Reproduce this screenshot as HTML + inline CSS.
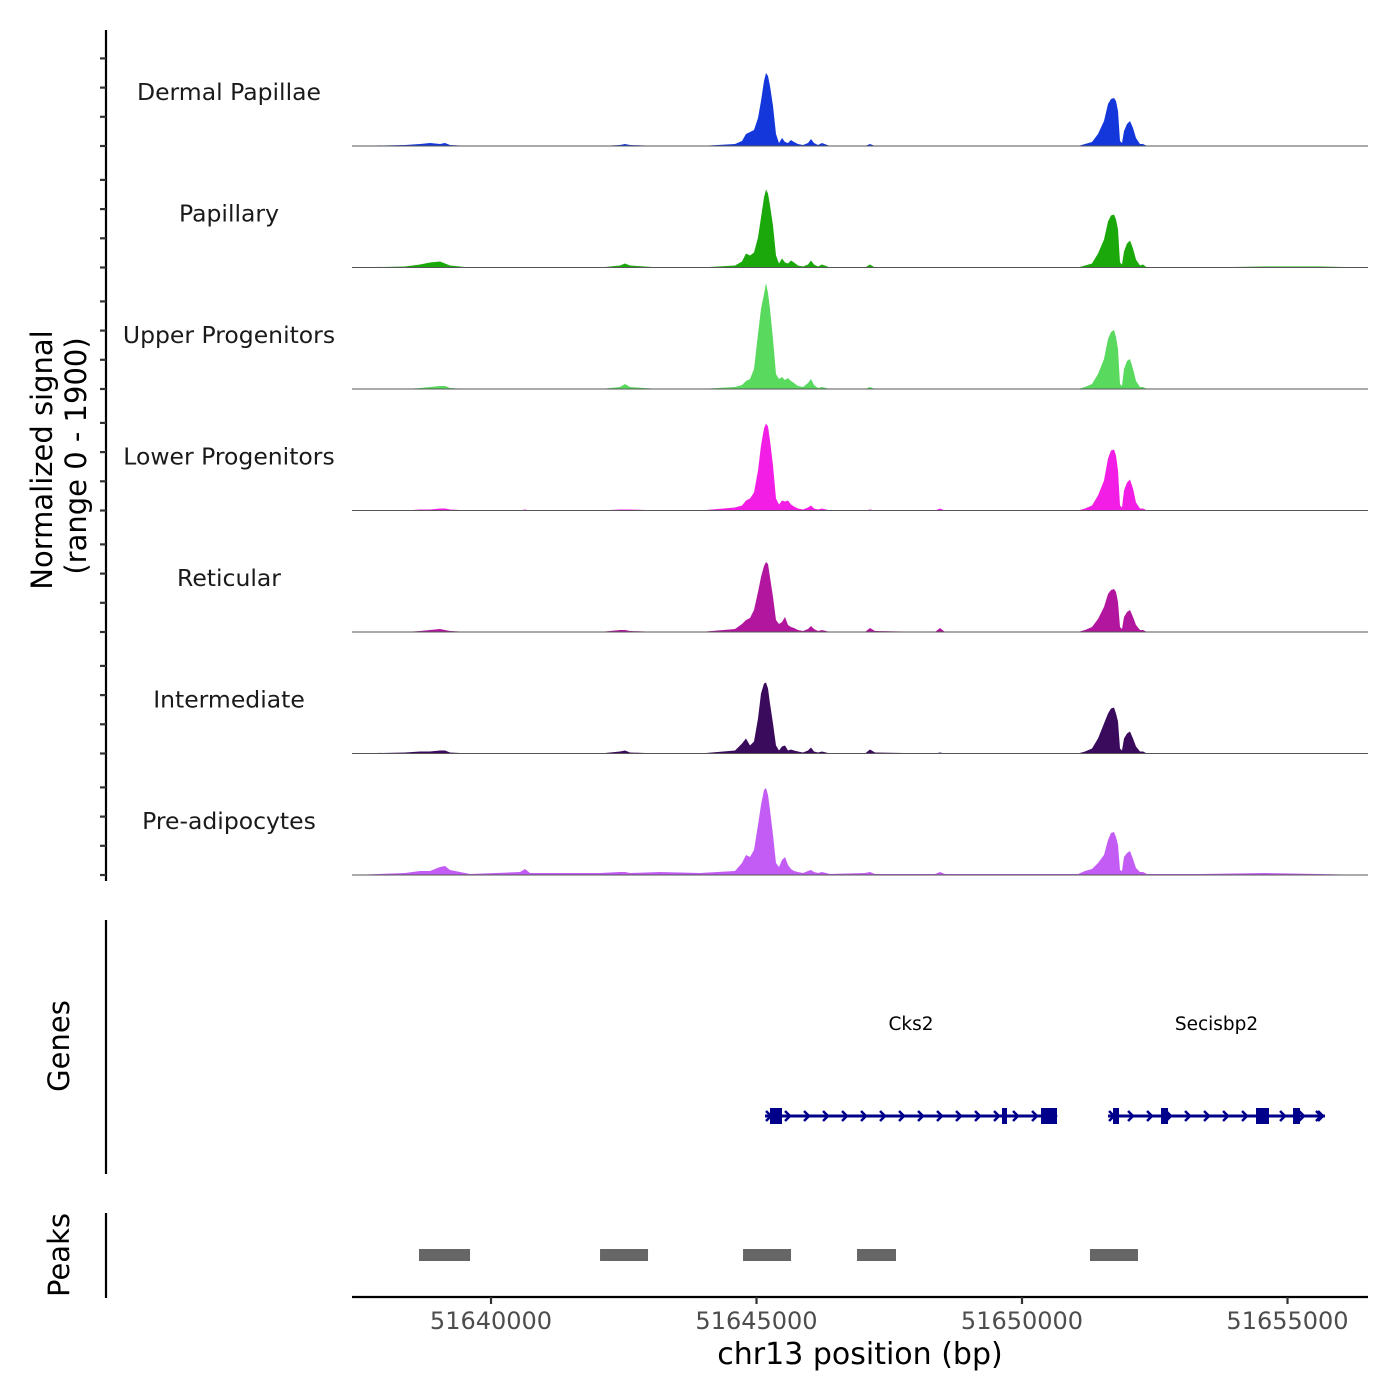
<!DOCTYPE html>
<html><head><meta charset="utf-8"><style>
body{margin:0;background:#fff;}
svg{display:block;font-family:"DejaVu Sans","Liberation Sans",sans-serif;}
</style></head><body>
<svg id="chart" width="1400" height="1400" viewBox="0 0 1400 1400">
<g id="tracks"></g>
<g id="yaxis">
<line x1="106" y1="30" x2="106" y2="881" stroke="#000" stroke-width="2.2"/>
</g>
<text transform="translate(52,460) rotate(-90)" text-anchor="middle" font-size="29" fill="#000">Normalized signal</text>
<text transform="translate(86,456) rotate(-90)" text-anchor="middle" font-size="29" fill="#000">(range 0 - 1900)</text>
<line x1="106" y1="920" x2="106" y2="1174" stroke="#000" stroke-width="2.2"/>
<text transform="translate(69,1046) rotate(-90)" text-anchor="middle" font-size="29" fill="#000">Genes</text>
<g id="genes"></g>
<line x1="106" y1="1213" x2="106" y2="1298" stroke="#000" stroke-width="2.2"/>
<text transform="translate(69,1255) rotate(-90)" text-anchor="middle" font-size="29" fill="#000">Peaks</text>
<g id="peaks"></g>
<g id="xaxis">
<line x1="352" y1="1297" x2="1368" y2="1297" stroke="#000" stroke-width="2.2"/>
</g>
<text x="860" y="1364" text-anchor="middle" font-size="30" fill="#000">chr13 position (bp)</text>
</svg>
<script>
const NS="http://www.w3.org/2000/svg";
const positions=[51637382,51638380,51638663,51638851,51639040,51639134,51639228,51639605,51640546,51640640,51640734,51642053,51642429,51642523,51642618,51643183,51643936,
51644595,51644727,51644802,51644878,51644953,51645028,51645085,51645141,51645179,51645216,51645254,51645311,51645367,51645424,51645480,51645537,51645593,51645650,51645706,51645781,51645876,51645970,51646026,51646083,51646158,51646233,51646384,
51647043,51647137,51647231,51648361,51648456,51648550,51649585,51651054,
51651186,51651318,51651431,51651544,51651619,51651676,51651732,51651770,51651808,51651845,51651883,51651921,51651977,51652034,51652090,51652147,51652222,51652278,51652354,
51653352,51654576,51655612,51656516];
const trackNames=["Dermal Papillae","Papillary","Upper Progenitors","Lower Progenitors","Reticular","Intermediate","Pre-adipocytes"];
const trackColors=["#1437dc","#1aa80a","#5ad95f","#f21ee6","#b2169f","#3a0a5c","#c25cf5"];
const sigDermal=[0,1,2,3,2,3,1,0,0,0,0,0,1,2,1,0,0,
2,5,12,14,16,28,45,65,73,70,60,40,12,3,8,4,3,6,4,2,1,3,7,3,1,3,0,
0,2,0,0,0,0,0,0,
2,4,12,25,42,47,48,45,35,5,3,15,22,25,18,8,2,2,0,
0,0,0,0];
const sigPapillary=[0,1,3,5,6,4,2,0,0,0,0,0,2,4,2,0,0,
2,6,14,12,15,30,50,70,78,74,62,42,12,4,9,5,4,7,5,2,1,3,7,3,1,3,0,
0,3,0,0,0,0,0,0,
2,4,14,28,46,52,53,48,38,5,3,16,24,27,19,8,2,3,0,
0,1,1,0];
const sigUpper=[0,0,1,2,3,3,1,0,0,0,0,0,2,5,2,0,0,
2,4,8,10,20,55,80,95,106,96,80,50,15,10,12,9,11,8,6,3,2,6,10,4,1,2,0,
0,2,0,0,0,0,0,0,
2,5,15,30,50,57,59,52,40,5,3,20,28,30,20,8,2,2,0,
0,0,0,0];
const sigLower=[0,0,1,1,2,2,1,0,0,1,0,0,1,1,1,0,0,
3,5,10,12,18,40,65,82,87,84,70,45,12,6,10,9,10,6,4,2,1,3,5,2,1,2,0,
0,1,0,0,2,0,0,0,
2,5,15,30,52,60,61,55,40,5,3,20,28,31,22,8,2,2,0,
0,0,0,0];
const sigReticular=[0,0,1,2,3,2,1,0,0,0,0,0,2,2,1,0,0,
3,8,12,14,22,40,55,66,70,68,55,35,12,8,10,15,7,5,4,2,1,3,6,3,1,2,0,
0,4,1,0,4,0,0,0,
2,5,13,25,38,42,43,40,30,5,3,15,20,22,15,7,2,2,0,
0,0,0,0];
const sigIntermediate=[0,1,2,2,3,3,1,0,0,0,0,0,2,3,1,0,0,
3,10,15,8,12,35,60,70,71,65,50,30,8,3,7,8,3,4,3,2,1,3,6,2,1,2,0,
0,4,1,0,1,0,0,0,
2,5,15,30,40,45,46,40,32,5,3,15,20,22,15,7,2,2,0,
0,0,0,0];
const sigPreadipo=[0,2,4,4,8,9,5,1,3,6,2,2,3,3,2,3,2,
4,12,20,18,25,50,70,85,87,80,65,40,12,8,15,18,10,6,4,3,2,4,5,3,2,3,1,
2,3,1,1,3,1,1,1,
4,6,12,20,35,42,43,38,30,5,4,18,22,24,16,7,3,3,1,
1,2,1,0];
const signals=[sigDermal,sigPapillary,sigUpper,sigLower,sigReticular,sigIntermediate,sigPreadipo];
const xTicks=[51640000,51645000,51650000,51655000];
const peakStarts=[51638644,51642053,51644746,51646893,51651280];
const peakEnds=[51639605,51642957,51645650,51647627,51652184];
const geneNames=["Cks2","Secisbp2"];
const geneStarts=[51645160,51651620];
const geneEnds=[51650659,51655706];
const exonGene=[0,0,0,1,1,1,1];
const exonStarts=[51645254,51649623,51650358,51651714,51652618,51654407,51655104];
const exonEnds=[51645480,51649717,51650659,51651827,51652750,51654651,51655235];

const X0=51637382,X1=51656516,PX0=352,PX1=1368;
const xs=v=>PX0+(v-X0)/(X1-X0)*(PX1-PX0);
const TRACK_H=121.5, BASE0=146, YMAX=121.5;
const ys=(i,v)=>BASE0+i*TRACK_H - v/YMAX*TRACK_H;

const tracks=document.getElementById('tracks');
const yaxis=document.getElementById('yaxis');
signals.forEach((sig,i)=>{
  const g=document.createElementNS(NS,'g');
  
  
  let d='M'+xs(positions[0])+','+ys(i,0);
  positions.forEach((p,k)=>{d+=' L'+xs(p).toFixed(1)+','+ys(i,sig[k]).toFixed(1);});
  d+=' L'+xs(positions[positions.length-1])+','+ys(i,0)+' Z';
  const path=document.createElementNS(NS,'path');
  path.setAttribute('d',d);path.setAttribute('fill',trackColors[i]);
  
  
  g.appendChild(path);
  const base=document.createElementNS(NS,'line');
  const by=ys(i,0);
  base.setAttribute('x1',PX0);base.setAttribute('x2',PX1);base.setAttribute('y1',by);base.setAttribute('y2',by);
  base.setAttribute('stroke','#555');base.setAttribute('stroke-width','1');
  
  
  g.appendChild(base);
  const t=document.createElementNS(NS,'text');
  t.setAttribute('x',229);t.setAttribute('y',by-46);t.setAttribute('text-anchor','middle');
  t.setAttribute('font-size','23.5');t.setAttribute('fill','#1a1a1a');
  t.textContent=trackNames[i];
  
  
  g.appendChild(t);
  tracks.appendChild(g);
  for(let k=0;k<4;k++){
    const tk=document.createElementNS(NS,'line');
    const ty=by-k*29.2;
    tk.setAttribute('x1',100);tk.setAttribute('x2',106);tk.setAttribute('y1',ty);tk.setAttribute('y2',ty);
    tk.setAttribute('stroke','#333');tk.setAttribute('stroke-width','2.2');
    
    
    yaxis.appendChild(tk);
  }
});

const xaxis=document.getElementById('xaxis');
xTicks.forEach(v=>{
  const x=xs(v);
  const l=document.createElementNS(NS,'line');
  l.setAttribute('x1',x);l.setAttribute('x2',x);l.setAttribute('y1',1297);l.setAttribute('y2',1304);
  l.setAttribute('stroke','#333');l.setAttribute('stroke-width','2.2');
  
  
  xaxis.appendChild(l);
  const t=document.createElementNS(NS,'text');
  t.setAttribute('x',x);t.setAttribute('y',1329);t.setAttribute('text-anchor','middle');
  t.setAttribute('font-size','24');t.setAttribute('fill','#4d4d4d');
  t.textContent=v;
  
  
  xaxis.appendChild(t);
});

const peaks=document.getElementById('peaks');
peakStarts.forEach((s,i)=>{
  const r=document.createElementNS(NS,'rect');
  r.setAttribute('x',xs(s));r.setAttribute('width',xs(peakEnds[i])-xs(s));
  r.setAttribute('y',1249);r.setAttribute('height',12);r.setAttribute('fill','#666');
  
  
  peaks.appendChild(r);
});

const genes=document.getElementById('genes');
const GY=1116, COL='#00008b';
geneNames.forEach((n,gi)=>{
  const x0=xs(geneStarts[gi]),x1=xs(geneEnds[gi]);
  const g=document.createElementNS(NS,'g');
  
  
  const l=document.createElementNS(NS,'line');
  l.setAttribute('x1',x0);l.setAttribute('x2',x1);l.setAttribute('y1',GY);l.setAttribute('y2',GY);
  l.setAttribute('stroke',COL);l.setAttribute('stroke-width','3');
  
  
  g.appendChild(l);
  let d='';
  for(let x=x0+4;x<=x1-2;x+=19){d+='M'+(x-3)+','+(GY-5)+' L'+(x+2)+','+GY+' L'+(x-3)+','+(GY+5)+' ';}
  d+='M'+(x1-9)+','+(GY-5)+' L'+(x1-4)+','+GY+' L'+(x1-9)+','+(GY+5);
  const ch=document.createElementNS(NS,'path');
  ch.setAttribute('d',d);ch.setAttribute('stroke',COL);ch.setAttribute('stroke-width','2.5');ch.setAttribute('fill','none');
  
  
  g.appendChild(ch);
  const t=document.createElementNS(NS,'text');
  t.setAttribute('x',(x0+x1)/2);t.setAttribute('y',1030);t.setAttribute('text-anchor','middle');
  t.setAttribute('font-size','18.5');t.setAttribute('fill','#000');
  t.textContent=n;
  
  
  g.appendChild(t);
  genes.appendChild(g);
});
exonStarts.forEach((s,i)=>{
  const r=document.createElementNS(NS,'rect');
  const x=xs(s),w=Math.max(5,xs(exonEnds[i])-x);
  r.setAttribute('x',x);r.setAttribute('width',w);
  r.setAttribute('y',GY-8);r.setAttribute('height',16);r.setAttribute('fill',COL);
  
  
  genes.appendChild(r);
});
</script>
</body></html>
